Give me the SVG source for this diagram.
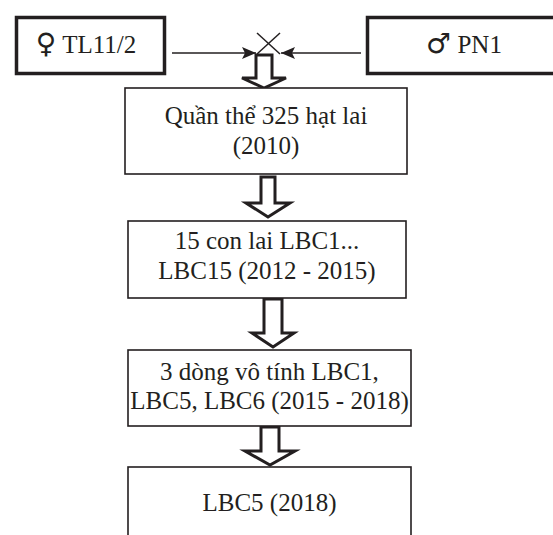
<svg xmlns="http://www.w3.org/2000/svg" width="553" height="535" viewBox="0 0 553 535">
<defs>
<style>
.bg{fill:#ffffff}
.pbox{fill:#ffffff;stroke:#231f20;stroke-width:3.5}
.box{fill:#ffffff;stroke:#231f20;stroke-width:1.6}
.t{font-family:"Liberation Serif","Times New Roman",serif;font-size:25px;fill:#231f20;text-anchor:middle}
.sym{font-family:"DejaVu Sans","Noto Sans",sans-serif;font-size:28px}
.ln{stroke:#231f20;stroke-width:1.5;fill:none}
.blk{fill:#ffffff;stroke:#231f20;stroke-width:3;stroke-linejoin:miter}
</style>
<marker id="ah" markerWidth="14" markerHeight="12" viewBox="0 0 14 12" refX="14" refY="6" orient="auto" markerUnits="userSpaceOnUse">
<path d="M0,0 L14,6 L0,12 L3,6 Z" fill="#231f20"/>
</marker>
</defs>
<rect class="bg" x="0" y="0" width="553" height="535"/>
<g id="connectors">
<line class="ln" x1="172" y1="53" x2="256" y2="53" marker-end="url(#ah)"/>
<line class="ln" x1="361" y1="53" x2="281" y2="53" marker-end="url(#ah)"/>
<line class="ln" x1="257" y1="33" x2="280" y2="54"/>
<line class="ln" x1="280" y1="33" x2="257" y2="54"/>
<polygon class="blk" points="256,55 272,55 272,78 286,78 264,88 242,78 256,78"/>
<polygon class="blk" points="261,177 275,177 275,203 290,203 268,217 246,203 261,203"/>
<polygon class="blk" points="264,299 282,299 282,333 294,333 273,347 252,333 264,333"/>
<polygon class="blk" points="261,427 279,427 279,451 295,451 270,465 245,451 261,451"/>
</g>
<g id="female">
<rect class="pbox" x="16.5" y="17.5" width="148" height="56"/>
<text class="t" x="86" y="53"><tspan class="sym">♀</tspan> TL11/2</text>
</g>
<g id="male">
<rect class="pbox" x="367.5" y="17.5" width="195" height="56"/>
<text class="t" x="464" y="53"><tspan class="sym">♂</tspan> PN1</text>
</g>
<g id="n1">
<rect class="box" x="125" y="88" width="282" height="86"/>
<text class="t" x="266" y="124">Quần thể 325 hạt lai</text>
<text class="t" x="266" y="154">(2010)</text>
</g>
<g id="n2">
<rect class="box" x="128" y="221" width="278" height="77"/>
<text class="t" x="267" y="249">15 con lai LBC1...</text>
<text class="t" x="267" y="279">LBC15 (2012 - 2015)</text>
</g>
<g id="n3">
<rect class="box" x="128" y="350" width="283" height="76"/>
<text class="t" x="269.5" y="380">3 dòng vô tính LBC1,</text>
<text class="t" x="269.5" y="409">LBC5, LBC6 (2015 - 2018)</text>
</g>
<g id="n4">
<rect class="box" x="128" y="467" width="283" height="80"/>
<text class="t" x="269.5" y="511">LBC5 (2018)</text>
</g>
</svg>
